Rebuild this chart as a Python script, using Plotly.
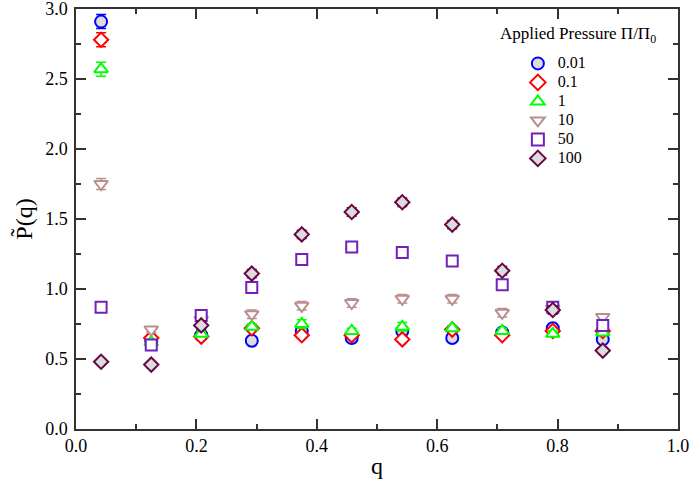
import plotly.graph_objects as go

# q values (wavevector bins)
q = [0.0417, 0.125, 0.208, 0.292, 0.375, 0.458, 0.542, 0.625, 0.708, 0.792, 0.875]

labels = ["0.01", "0.1", "1", "10", "50", "100"]

p_001 = [2.91, 0.63, 0.67, 0.63, 0.70, 0.65, 0.70, 0.65, 0.69, 0.72, 0.64]
p_01 = [2.78, 0.65, 0.66, 0.72, 0.67, 0.67, 0.64, 0.71, 0.67, 0.70, 0.70]
p_1 = [2.57, 0.62, 0.68, 0.73, 0.75, 0.70, 0.73, 0.72, 0.70, 0.68, 0.69]
p_10 = [1.75, 0.71, 0.78, 0.82, 0.88, 0.90, 0.93, 0.93, 0.83, 0.86, 0.80]
p_50 = [0.87, 0.60, 0.81, 1.01, 1.21, 1.30, 1.26, 1.20, 1.03, 0.87, 0.74]
p_100 = [0.48, 0.46, 0.74, 1.11, 1.39, 1.55, 1.62, 1.46, 1.13, 0.85, 0.56]

err_001 = [0.05, 0.02, 0.02, 0.02, 0.02, 0.02, 0.02, 0.02, 0.02, 0.02, 0.02]
err_01 = [0.05, 0.02, 0.02, 0.02, 0.02, 0.02, 0.02, 0.02, 0.02, 0.02, 0.02]
err_1 = [0.05, 0.02, 0.02, 0.02, 0.03, 0.02, 0.03, 0.02, 0.02, 0.02, 0.02]
err_10 = [0.04, 0.02, 0.02, 0.03, 0.03, 0.03, 0.03, 0.03, 0.03, 0.02, 0.02]
err_50 = [0.02, 0.02, 0.02, 0.02, 0.02, 0.02, 0.02, 0.02, 0.02, 0.02, 0.02]
err_100 = [0.02, 0.02, 0.03, 0.03, 0.03, 0.03, 0.03, 0.03, 0.03, 0.03, 0.02]

series = [
    (p_001, err_001, "circle", 12, "#0000ff", "#dcdcdc"),
    (p_01, err_01, "diamond", 11, "#ff0000", "white"),
    (p_1, err_1, "triangle-up", 12, "#00ff00", "white"),
    (p_10, err_10, "triangle-down", 12, "#bc8f8f", "white"),
    (p_50, err_50, "square", 11, "#7221bc", "white"),
    (p_100, err_100, "diamond", 11, "#670748", "#dcdcdc"),
]

fig = go.Figure()

for lab, (vals, err, sym, sz, col, fill) in zip(labels, series):
    fig.add_trace(go.Scatter(
        x=q, y=vals, mode="markers",
        name=f"<span style='font-size:16px'>{lab}</span>",
        marker=dict(symbol=sym, size=sz, color=fill, line=dict(color=col, width=2)),
        error_y=dict(type="data", array=err, color=col, thickness=1.5, width=5),
    ))

font = "Liberation Serif"
axis_common = dict(
    showline=True, linecolor="#333333", linewidth=1.5, mirror="allticks",
    ticks="inside", ticklen=10, tickwidth=1.5, tickcolor="#333333",
    showgrid=False, zeroline=False, automargin=False, ticklabeloverflow="allow",
    tickfont=dict(family=font, size=18, color="black"),
)

fig.update_xaxes(range=[0, 1], dtick=0.2, tickformat=".1f",
                 minor=dict(ticks="inside", ticklen=5, dtick=0.1, tickcolor="#333333", tickwidth=1.5),
                 title=dict(text="q", font=dict(family=font, size=24, color="black"), standoff=2),
                 **axis_common)
fig.update_yaxes(range=[0, 3], dtick=0.5, tickformat=".1f", ticklabelstandoff=3,
                 minor=dict(ticks="inside", ticklen=5, dtick=0.25, tickcolor="#333333", tickwidth=1.5),
                 title=dict(text="P\u0303(q)", font=dict(family=font, size=24, color="black"), standoff=6),
                 **axis_common)

fig.add_annotation(
    xref="paper", yref="paper", x=0.701, y=0.939, xanchor="left", yanchor="middle",
    text="Applied Pressure \u03a0/\u03a0<sub>0</sub>", showarrow=False,
    font=dict(family=font, size=17, color="black"),
)

fig.update_layout(
    width=692, height=488,
    margin=dict(l=76, r=14, t=9, b=59),
    plot_bgcolor="white", paper_bgcolor="white",
    legend=dict(x=0.734, y=0.905, xanchor="left", yanchor="top",
                font=dict(family=font, size=12, color="black"),
                bgcolor="rgba(0,0,0,0)", tracegroupgap=0, itemsizing="constant"),
)

fig.write_html("out.html", config={"displayModeBar": False},
               post_script="document.body.style.margin='0';")
